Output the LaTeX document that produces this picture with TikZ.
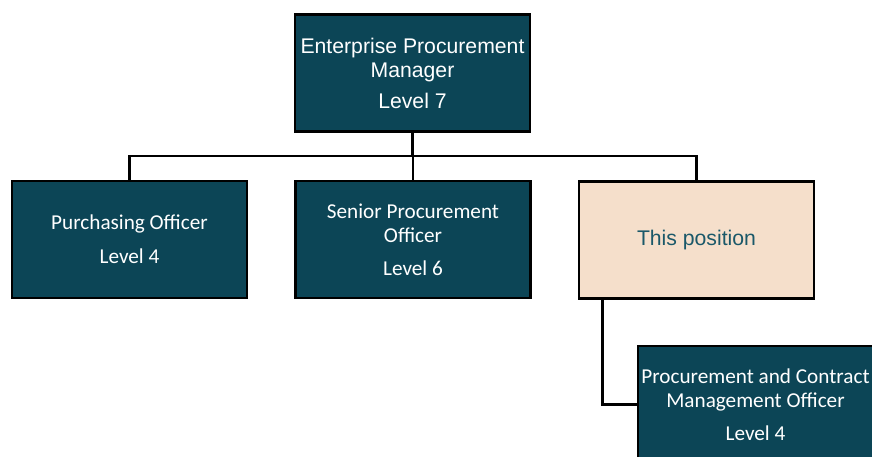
\documentclass[tikz,border=0pt]{standalone}
\usepackage{fontspec}
\usepackage{xcolor}
\usepackage{tikz}
\newfontfamily\arialfont{Liberation Sans}
\newfontfamily\calfont{Carlito}

\definecolor{teal}{HTML}{0C4556}
\definecolor{peach}{HTML}{F5DFCB}
\definecolor{darkteal}{HTML}{1A5869}

\tikzset{
  role/.style={draw=black, line width=2.2pt, fill=teal, text=white,
    minimum width=235pt, minimum height=117pt, inner sep=0pt, align=center,
    font=\fontsize{21.2}{24}\selectfont},
  self/.style={role, fill=peach, text=darkteal},
  link/.style={line width=2.2pt, black}
}

\begin{document}
\begin{tikzpicture}[x=1pt,y=-1pt]
\clip (0,0) rectangle (872,457);
\node[role,font=\arialfont\fontsize{21.2}{24}\selectfont] (mgr) at (412.5,73)
  {Enterprise Procurement\\Manager\\[7pt]Level 7};
\node[role,font=\calfont\fontsize{21.2}{24}\selectfont] (po) at (129.5,239.5)
  {Purchasing Officer\\[10pt]Level 4};
\node[role,font=\calfont\fontsize{21.2}{24}\selectfont] (spo) at (413,239.5)
  {Senior Procurement\\Officer\\[9pt]Level 6};
\node[self,font=\arialfont\fontsize{21.2}{24}\selectfont] (tp) at (696.5,240)
  {This position};
\node[role,font=\calfont\fontsize{21.2}{24}\selectfont] (pcmo) at (755.5,404.5)
  {Procurement and Contract\\Management Officer\\[9pt]Level 4};
\coordinate (bus) at (412.5,156);
% reporting lines
\draw[link] (mgr.south) -- (bus);
\draw[link] (po.north) |- (bus) -| (tp.north);
\draw[link] (spo.north) -- (spo.north |- bus);
\draw[link] ([xshift=-94pt]tp.south) |- (pcmo.west);
\end{tikzpicture}
\end{document}
